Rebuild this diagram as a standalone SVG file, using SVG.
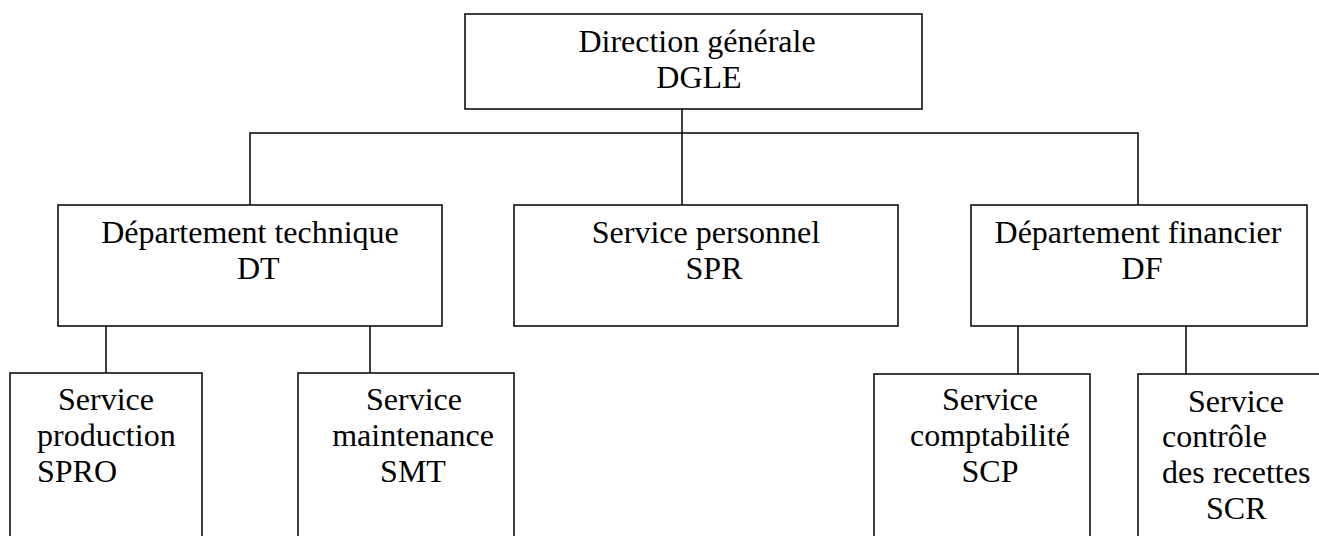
<svg xmlns="http://www.w3.org/2000/svg" width="1319" height="536" viewBox="0 0 1319 536">
<style>
.box{fill:#fff;stroke:#000;stroke-width:1.5}
.ln{fill:none;stroke:#000;stroke-width:1.5}
text{font-family:"Liberation Serif","Times New Roman",serif;font-size:32px;fill:#000}
.c{text-anchor:middle}
</style>
<rect width="1319" height="536" fill="#fff"/>
<g id="connectors">
<line class="ln" x1="682" y1="109" x2="682" y2="205"/>
<polyline class="ln" points="250,205 250,133 1138,133 1138,205"/>
<line class="ln" x1="106" y1="326" x2="106" y2="373"/>
<line class="ln" x1="370" y1="326" x2="370" y2="373"/>
<line class="ln" x1="1018" y1="326" x2="1018" y2="374"/>
<line class="ln" x1="1186" y1="326" x2="1186" y2="374"/>
</g>
<g id="DGLE">
<rect class="box" x="465" y="14" width="457" height="95"/>
<text class="c" x="697" y="52">Direction générale</text>
<text class="c" x="699" y="88">DGLE</text>
</g>
<g id="DT">
<rect class="box" x="58" y="205" width="384" height="121"/>
<text class="c" x="250" y="243">Département technique</text>
<text x="237" y="279">DT</text>
</g>
<g id="SPR">
<rect class="box" x="514" y="205" width="384" height="121"/>
<text class="c" x="706" y="243">Service personnel</text>
<text class="c" x="714" y="279">SPR</text>
</g>
<g id="DF">
<rect class="box" x="971" y="205" width="336" height="121"/>
<text class="c" x="1138" y="243">Département financier</text>
<text class="c" x="1142" y="279">DF</text>
</g>
<g id="SPRO">
<rect class="box" x="10" y="373" width="192" height="180"/>
<text x="58" y="410">Service</text>
<text x="37" y="446">production</text>
<text x="37" y="482">SPRO</text>
</g>
<g id="SMT">
<rect class="box" x="298" y="373" width="216" height="180"/>
<text class="c" x="414" y="410">Service</text>
<text class="c" x="413" y="446">maintenance</text>
<text class="c" x="413" y="482">SMT</text>
</g>
<g id="SCP">
<rect class="box" x="874" y="374" width="216" height="180"/>
<text class="c" x="990" y="410">Service</text>
<text class="c" x="990" y="446">comptabilité</text>
<text class="c" x="990" y="482">SCP</text>
</g>
<g id="SCR">
<rect class="box" x="1138" y="374" width="200" height="180"/>
<text x="1188" y="412">Service</text>
<text x="1162" y="447">contrôle</text>
<text x="1162" y="483">des recettes</text>
<text x="1206" y="519">SCR</text>
</g>
</svg>
